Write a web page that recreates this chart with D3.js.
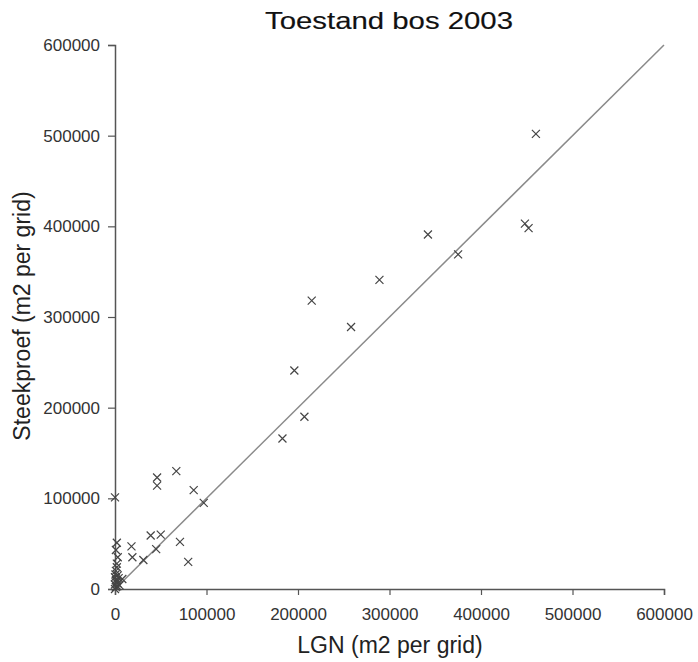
<!DOCTYPE html>
<html>
<head>
<meta charset="utf-8">
<script src="https://cdn.jsdelivr.net/npm/d3@7"></script>
<style>
  body { margin: 0; background: #fff; }
  text { font-family: "Liberation Sans", Arial, sans-serif; }
</style>
</head>
<body>
<div id="container"></div>
<script>
// LGN (x) and Steekproef (y) per grid cell, m2
let lgn = [
  460000, 448000, 452000, 342000, 375000, 289000, 215000, 258000,
  196000, 207000, 183000, 0, 46000, 46000, 67000, 86000, 97000,
  39000, 50000, 45000, 71000, 80000, 18000, 19000, 31000, 3000,
  2000, 1000, 2000, 1000, 3000, 2000, 4000, 5000, 1000, 8000, 0, 2000, 3000,
  0, 1000, 500, 1500, 0, 2500
];
let steekproef = [
  502000, 403000, 398000, 391000, 369000, 341000, 318000, 289000,
  241000, 190000, 166000, 101000, 123000, 114000, 130000, 109000, 95000,
  59000, 60000, 44000, 52000, 30000, 47000, 35000, 32000, 35000,
  51000, 43000, 28000, 20000, 15000, 9000, 12000, 4000, 2000, 11000, 0, 24000, 6000,
  5000, 10000, 16000, 7000, 13000, 3000
];
let tickValues = [0, 100000, 200000, 300000, 400000, 500000, 600000];
let fitLine = [0, 600000];

let points = lgn.map((d, i) => ({x: d, y: steekproef[i]}));

let viz = d3.select("#container")
  .append("svg")
    .attr("width", 698)
    .attr("height", 662)
  ;

let x = d3.scaleLinear().domain([0, 600000]).range([115, 664]);
let y = d3.scaleLinear().domain([0, 600000]).range([589, 45]);

// y = x reference line
viz.append("line")
    .attr("x1", x(fitLine[0]))
    .attr("y1", y(fitLine[0]))
    .attr("x2", x(fitLine[1]))
    .attr("y2", y(fitLine[1]))
    .attr("stroke", "#8a8a8a")
    .attr("stroke-width", 1.5)
  ;

let xAxis = viz.append("g")
    .attr("transform", "translate(0," + y(0) + ")")
    .call(d3.axisBottom(x).tickValues(tickValues).tickFormat(d3.format("d")).tickSizeOuter(0).tickSize(6).tickPadding(13))
  ;
let yAxis = viz.append("g")
    .attr("transform", "translate(" + x(0) + ",0)")
    .call(d3.axisLeft(y).tickValues(tickValues).tickFormat(d3.format("d")).tickSizeOuter(0).tickSize(7).tickPadding(8))
  ;

[xAxis, yAxis].forEach(function(ax){
  ax.select(".domain").attr("stroke", "#555").attr("stroke-width", 1.5);
  ax.selectAll(".tick line").attr("stroke", "#555").attr("stroke-width", 1.2);
  ax.selectAll(".tick text")
    .attr("fill", "#333")
    .style("font-size", "17px")
    .style("font-family", "Liberation Sans, Arial, sans-serif");
});

// cross markers
let s = 4;
let marks = viz.selectAll(".pt").data(points).enter()
  .append("path")
    .attr("class", "pt")
    .attr("d", function(d){
      let cx = x(d.x), cy = y(d.y);
      return "M" + (cx - s) + "," + (cy - s) + "L" + (cx + s) + "," + (cy + s) +
             "M" + (cx - s) + "," + (cy + s) + "L" + (cx + s) + "," + (cy - s);
    })
    .attr("stroke", "#444")
    .attr("stroke-width", 1.2)
    .attr("fill", "none")
  ;

viz.append("text")
    .attr("x", 389)
    .attr("y", 29)
    .attr("text-anchor", "middle")
    .attr("textLength", 248)
    .attr("lengthAdjust", "spacingAndGlyphs")
    .style("font-size", "24px")
    .attr("fill", "#111")
    .attr("stroke", "#111")
    .attr("stroke-width", 0.15)
    .text("Toestand bos 2003");

viz.append("text")
    .attr("x", 390)
    .attr("y", 653)
    .attr("text-anchor", "middle")
    .style("font-size", "23px")
    .attr("fill", "#222")
    .text("LGN (m2 per grid)");

viz.append("text")
    .attr("transform", "translate(30,316) rotate(-90)")
    .attr("text-anchor", "middle")
    .style("font-size", "23px")
    .attr("fill", "#222")
    .text("Steekproef (m2 per grid)");
</script>
</body>
</html>
